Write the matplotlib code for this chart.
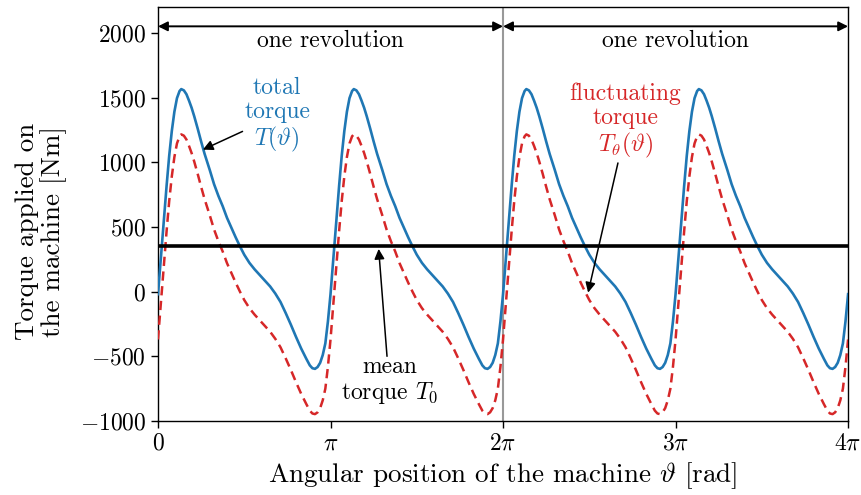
import numpy as np
import matplotlib
matplotlib.use("Agg")
import matplotlib.pyplot as plt

plt.rcParams['font.family'] = 'serif'
plt.rcParams['font.serif'] = ['cmr10']
plt.rcParams['mathtext.fontset'] = 'cm'
plt.rcParams['axes.formatter.use_mathtext'] = True
plt.rcParams['axes.unicode_minus'] = True

# ---- data ----
# position within one half-revolution, as a fraction of pi
period_frac = [0.000, 0.010, 0.020, 0.035, 0.050, 0.065, 0.080, 0.095, 0.110, 0.125,
               0.135, 0.150, 0.165, 0.180, 0.195, 0.210, 0.230, 0.250, 0.270, 0.300,
               0.325, 0.350, 0.375, 0.400, 0.425, 0.450, 0.475, 0.500, 0.530, 0.560,
               0.590, 0.620, 0.650, 0.680, 0.710, 0.740, 0.770, 0.800, 0.830, 0.860,
               0.880, 0.895, 0.910, 0.925, 0.940, 0.955, 0.970, 0.985]
# total torque T(theta) [Nm] over one period
total_period = [-20, 150, 320, 570, 820, 1050, 1240, 1390, 1495, 1550,
                1565, 1555, 1525, 1475, 1420, 1355, 1260, 1160, 1065, 940,
                830, 740, 660, 570, 495, 420, 350, 285, 222, 172,
                128, 85, 40, -15, -80, -165, -255, -350, -440, -520,
                -570, -592, -597, -583, -550, -490, -400, -230]
# fluctuating torque T_theta(theta) [Nm] over one period
fluct_period = [-370, -200, -30, 220, 470, 700, 890, 1040, 1145, 1200,
                1215, 1205, 1175, 1125, 1070, 1005, 910, 810, 715, 590,
                480, 390, 310, 220, 145, 70, 0, -65, -128, -178,
                -222, -265, -310, -365, -430, -515, -605, -700, -790, -870,
                -920, -942, -947, -933, -900, -840, -750, -580]
n_periods = 4
mean_torque = 350
x_tick_labels = ['$0$', r'$\pi$', r'$2\pi$', r'$3\pi$', r'$4\pi$']
y_ticks = [-1000, -500, 0, 500, 1000, 1500, 2000]

frac = np.array(period_frac)
theta = np.concatenate([(k + frac) * np.pi for k in range(n_periods)] + [np.array([n_periods * np.pi])])
total = np.concatenate([np.array(total_period, float)] * n_periods + [np.array([total_period[0]], float)])
fluct = np.concatenate([np.array(fluct_period, float)] * n_periods + [np.array([fluct_period[0]], float)])

blue = '#1f77b4'
red = '#d62728'
fs = 17

fig = plt.figure(figsize=(8.61, 4.95), dpi=100)
ax = fig.add_axes([0.1835, 0.1495, 0.8015, 0.8365])

ax.axvline(2 * np.pi, color='0.6', lw=1.5, zorder=1)
ax.plot(theta, total, color=blue, lw=1.9, zorder=3)
ax.plot(theta, fluct, color=red, lw=1.8, ls=(0, (3.7, 2.2)), zorder=3)
ax.plot([0, 4 * np.pi], [mean_torque, mean_torque], color='k', lw=2.6, zorder=4)

ax.set_xlim(0, 4 * np.pi)
ax.set_ylim(-1000, 2200)
ax.set_xticks(np.arange(5) * np.pi)
ax.set_xticklabels(x_tick_labels)
ax.set_yticks(y_ticks)
ax.tick_params(labelsize=fs, length=5, width=1, direction='out')
for s in ax.spines.values():
    s.set_linewidth(1.0)

ax.set_xlabel(r'Angular position of the machine $\vartheta$ [rad]', fontsize=19.5, labelpad=4)
ax.set_ylabel('Torque applied on\nthe machine [Nm]', fontsize=19.5, linespacing=1.05)
ax.yaxis.set_label_coords(-0.132, 0.457)

# revolution arrows
for a, b in [(0, 2 * np.pi), (2 * np.pi, 4 * np.pi)]:
    ax.annotate('', xy=(b, 2050), xytext=(a, 2050),
                arrowprops=dict(arrowstyle='<|-|>', color='k', lw=1.4,
                                mutation_scale=14, shrinkA=0, shrinkB=0))
    ax.text((a + b) / 2, 1940, 'one revolution', ha='center', va='center', fontsize=fs)

# annotations
ax.text(0.69 * np.pi, 1360, 'total\ntorque\n' + r'$T(\vartheta)$', color=blue,
        ha='center', va='center', fontsize=fs, linespacing=1.1)
ax.annotate('', xy=(0.26 * np.pi, 1097), xytext=(0.49 * np.pi, 1238),
            arrowprops=dict(arrowstyle='-|>', color='k', lw=1.1, mutation_scale=15,
                            shrinkA=0, shrinkB=0))

ax.text(2.708 * np.pi, 1316, 'fluctuating\ntorque\n' + r'$T_\theta(\vartheta)$', color=red,
        ha='center', va='center', fontsize=fs, linespacing=1.1)
ax.annotate('', xy=(2.493 * np.pi, -8), xytext=(2.666 * np.pi, 994),
            arrowprops=dict(arrowstyle='-|>', color='k', lw=1.1, mutation_scale=15,
                            shrinkA=0, shrinkB=0))

ax.text(1.341 * np.pi, -687, 'mean\ntorque ' + r'$T_0$', color='k',
        ha='center', va='center', fontsize=fs, linespacing=1.1)
ax.annotate('', xy=(1.279 * np.pi, 330), xytext=(1.3275 * np.pi, -500),
            arrowprops=dict(arrowstyle='-|>', color='k', lw=1.1, mutation_scale=15,
                            shrinkA=0, shrinkB=0))

fig.savefig('out.png', dpi=100)
